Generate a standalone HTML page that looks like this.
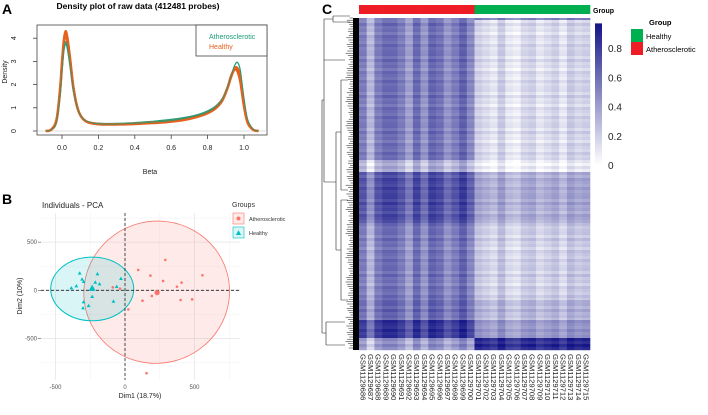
<!DOCTYPE html>
<html><head><meta charset="utf-8"><style>
html,body{margin:0;padding:0;background:#fff;}
svg{display:block;font-family:"Liberation Sans",Arial,sans-serif;}
</style></head><body>
<svg id="fig" width="708" height="415" viewBox="0 0 708 415" xmlns="http://www.w3.org/2000/svg">
<g id="pA"></g>
<g id="pB"></g>
<g id="pC"></g>
</svg>
<script>
// ---------- Panel A data ----------
const betaGrid = [-0.09,-0.06,-0.03,-0.01,0.0,0.01,0.02,0.03,0.045,0.06,0.08,0.1,0.13,0.17,0.22,0.3,0.4,0.5,0.6,0.7,0.78,0.84,0.88,0.91,0.93,0.95,0.965,0.98,1.0,1.02,1.05,1.08];
const athero1 = [0,0.05,0.4,1.6,2.6,3.5,3.85,3.6,2.8,1.9,1.1,0.7,0.45,0.34,0.3,0.3,0.33,0.38,0.45,0.58,0.75,1.0,1.35,1.9,2.4,2.85,2.95,2.6,1.4,0.5,0.08,0];
const athero2 = [0,0.04,0.35,1.5,2.5,3.4,3.75,3.5,2.7,1.8,1.05,0.68,0.44,0.36,0.33,0.33,0.36,0.42,0.5,0.62,0.8,1.05,1.4,1.95,2.45,2.75,2.7,2.3,1.2,0.4,0.06,0];
const healthy1 = [0,0.06,0.5,1.9,3.0,3.9,4.3,4.0,3.1,2.05,1.15,0.7,0.42,0.32,0.28,0.28,0.3,0.34,0.4,0.52,0.7,0.95,1.3,1.85,2.35,2.7,2.7,2.3,1.15,0.4,0.06,0];
const healthy2 = [0,0.05,0.45,1.8,2.85,3.75,4.1,3.85,3.0,2.0,1.12,0.69,0.43,0.33,0.29,0.29,0.31,0.36,0.42,0.55,0.72,0.98,1.33,1.88,2.4,2.65,2.55,2.1,1.05,0.35,0.05,0];
const densXTicks = [0.0,0.2,0.4,0.6,0.8,1.0];
const densYTicks = [0,1,2,3,4];

// ---------- Panel B data ----------
const healthyDim1 = [-326,-309,-298,-350,-386,-236,-245,-198,-183,-214,-29,-60,-83,-236,-298,-262,-302];
const healthyDim2 = [177,115,90,45,24,31,10,170,66,83,121,38,-115,-66,-121,-160,-184];
const atheroDim1 = [95,183,290,274,374,407,557,483,400,193,126,24,-88,-36,155];
const atheroDim2 = [212,153,316,97,38,80,156,-94,-101,-59,-108,-198,31,17,-861];
const centroidsDim1 = [231,-236];
const centroidsDim2 = [-24,21];
const pcaXTicks = [-500,0,500];
const pcaYTicks = [-500,0,500];

// ---------- Panel C data ----------
const sampleIds = [];
for (let i = 686; i <= 715; i++) sampleIds.push('GSM1129' + i);
const bandEnds = [20,160,172,223,300,320,338,350];
const bandAth = [0.5,0.55,0.3,0.72,0.55,0.6,0.82,0.42];
const bandHea = [0.5,0.15,0.05,0.35,0.2,0.3,0.42,0.88];
const colOffAth = [0,-0.25,0,0.08,0.08,0,-0.15,0.08,-0.1,0.1,0.05,-0.1,0,0.12,-0.05];
const colOffHea = [0.05,0,-0.05,0.08,-0.05,-0.08,0.02,0.05,-0.05,0,0.05,-0.05,0.08,0.02,0.05];
const rowJitter = [0.03,-0.04,0.06,-0.02,0.01,-0.06,0.04,0.0,-0.03,0.05,-0.01,0.02];
const cbTicks = [0,0.2,0.4,0.6,0.8];

const NS = 'http://www.w3.org/2000/svg';
function mk(parent, tag, attrs, text) {
  const e = document.createElementNS(NS, tag);
  for (const k in attrs) e.setAttribute(k, attrs[k]);
  if (text !== undefined) e.textContent = text;
  parent.appendChild(e);
  return e;
}
function smoothPath(pts) {
  let d = 'M' + pts[0][0].toFixed(1) + ',' + pts[0][1].toFixed(1);
  for (let i = 0; i < pts.length - 1; i++) {
    const p0 = pts[i-1] || pts[i], p1 = pts[i], p2 = pts[i+1], p3 = pts[i+2] || p2;
    const c1 = [p1[0] + (p2[0]-p0[0])/6, p1[1] + (p2[1]-p0[1])/6];
    const c2 = [p2[0] - (p3[0]-p1[0])/6, p2[1] - (p3[1]-p1[1])/6];
    d += ' C' + c1[0].toFixed(1)+','+c1[1].toFixed(1)+' '+c2[0].toFixed(1)+','+c2[1].toFixed(1)+' '+p2[0].toFixed(1)+','+p2[1].toFixed(1);
  }
  return d;
}

// ===== Panel A =====
(function(){
  const g = document.getElementById('pA');
  const xA = v => 62 + v * 182;
  const yA = v => 131 - v * 23.2;
  let t = mk(g,'text',{x:2,y:14,'font-size':14,'font-weight':'bold'},'A');
   
  t = mk(g,'text',{x:138,y:9,'font-size':8.5,'font-weight':'bold','text-anchor':'middle'},'Density plot of raw data (412481 probes)');
   
  let r = mk(g,'rect',{x:37,y:25,width:230,height:110,fill:'none',stroke:'#444','stroke-width':0.8});
   
  mk(g,'line',{x1:37,x2:267,y1:yA(0),y2:yA(0),stroke:'#bbb','stroke-width':0.6});
  const series = [[athero1,'#1B9E77',1.2],[athero2,'#1B9E77',1.2],[healthy1,'#E6601E',2.4],[healthy2,'#E6601E',2.4],[athero1,'#17A07A',0.7]];
  series.forEach((s,i) => {
    const pts = betaGrid.map((b,j) => [xA(b), yA(s[0][j])]);
    const p = mk(g,'path',{d:smoothPath(pts),fill:'none',stroke:s[1],'stroke-width':s[2]});
    
    
  });
  densXTicks.forEach(v => {
    mk(g,'line',{x1:xA(v),x2:xA(v),y1:135,y2:139,stroke:'#444','stroke-width':0.8});
    const tl = mk(g,'text',{x:xA(v),y:150,'font-size':7,'text-anchor':'middle',fill:'#222'},v.toFixed(1));
     
  });
  densYTicks.forEach(v => {
    mk(g,'line',{x1:33,x2:37,y1:yA(v),y2:yA(v),stroke:'#444','stroke-width':0.8});
    const tl = mk(g,'text',{x:16,y:yA(v),'font-size':7,'text-anchor':'middle',fill:'#222',transform:'rotate(-90 16 '+yA(v)+')'},String(v));
     
  });
  t = mk(g,'text',{x:150,y:174,'font-size':7,'text-anchor':'middle',fill:'#222'},'Beta');
   
  t = mk(g,'text',{x:7,y:72,'font-size':7,'text-anchor':'middle',fill:'#222',transform:'rotate(-90 7 72)'},'Density');
   
  const lg = mk(g,'g',{});
   
  mk(lg,'rect',{x:196,y:25,width:71,height:31,fill:'#fff',stroke:'#444','stroke-width':0.8});
  mk(lg,'text',{x:209,y:39,'font-size':7,fill:'#1B9E77'},'Atherosclerotic');
  mk(lg,'text',{x:209,y:49,'font-size':7,fill:'#E6601E'},'Healthy');
})();

// ===== Panel B =====
(function(){
  const g = document.getElementById('pB');
  const xB = v => 125 + v * 0.139;
  const yB = v => 290.3 - v * 0.0963;
  let t = mk(g,'text',{x:2,y:204,'font-size':14,'font-weight':'bold'},'B');
   
  t = mk(g,'text',{x:42,y:208,'font-size':8,fill:'#222'},'Individuals - PCA');
   
  const x0=41,x1=240,y0=213,y1=380;
  [-750,-250,250,750].forEach(v=>{ if(xB(v)>x0&&xB(v)<x1) mk(g,'line',{x1:xB(v),x2:xB(v),y1:y0,y2:y1,stroke:'#f2f2f2','stroke-width':0.5}); });
  [-750,-250,250,750].forEach(v=>{ if(yB(v)>y0&&yB(v)<y1) mk(g,'line',{x1:x0,x2:x1,y1:yB(v),y2:yB(v),stroke:'#f2f2f2','stroke-width':0.5}); });
  pcaXTicks.forEach(v=>{
    mk(g,'line',{x1:xB(v),x2:xB(v),y1:y0,y2:y1,stroke:'#e6e6e6','stroke-width':0.8});
    const tl = mk(g,'text',{x:xB(v),y:389,'font-size':6,'text-anchor':'middle',fill:'#555'},String(v));
     
  });
  pcaYTicks.forEach(v=>{
    mk(g,'line',{x1:x0,x2:x1,y1:yB(v),y2:yB(v),stroke:'#e6e6e6','stroke-width':0.8});
    mk(g,'line',{x1:38,x2:41,y1:yB(v),y2:yB(v),stroke:'#555','stroke-width':0.6});
    const tl = mk(g,'text',{x:37,y:yB(v)+2,'font-size':6,'text-anchor':'end',fill:'#555'},String(v));
     
  });
  let e = mk(g,'ellipse',{cx:xB(228),cy:yB(-20),rx:73,ry:71,fill:'rgba(248,118,109,0.15)',stroke:'#F8766D','stroke-width':0.8,transform:'rotate(-15 '+xB(228)+' '+yB(-20)+')'});
   
  e = mk(g,'ellipse',{cx:xB(-236),cy:yB(14),rx:41.5,ry:31.8,fill:'rgba(0,191,196,0.15)',stroke:'#00BFC4','stroke-width':1});
   
  mk(g,'line',{x1:xB(0),x2:xB(0),y1:y0,y2:y1,stroke:'#222','stroke-width':0.8,'stroke-dasharray':'3,2'});
  mk(g,'line',{x1:x0,x2:x1,y1:yB(0),y2:yB(0),stroke:'#222','stroke-width':0.8,'stroke-dasharray':'3,2'});
  atheroDim1.forEach((v,i)=>{
    const c = mk(g,'circle',{cx:xB(v),cy:yB(atheroDim2[i]),r:1.3,fill:'#F8766D'});
     
  });
  const tri=(x,y,s)=>`${x},${y-s} ${x-s*0.95},${y+s*0.7} ${x+s*0.95},${y+s*0.7}`;
  healthyDim1.forEach((v,i)=>{
    const p = mk(g,'polygon',{points:tri(xB(v),yB(healthyDim2[i]),2),fill:'#00BFC4'});
     
  });
  let c = mk(g,'circle',{cx:xB(centroidsDim1[0]),cy:yB(centroidsDim2[0]),r:2.6,fill:'#F8766D'});
   
  c = mk(g,'polygon',{points:tri(xB(centroidsDim1[1]),yB(centroidsDim2[1]),3.6),fill:'#00BFC4'});
   
  t = mk(g,'text',{x:140,y:398,'font-size':7,'text-anchor':'middle',fill:'#222'},'Dim1 (18.7%)');
   
  t = mk(g,'text',{x:22,y:296,'font-size':7,'text-anchor':'middle',fill:'#222',transform:'rotate(-90 22 296)'},'Dim2 (10%)');
   
  const lg = mk(g,'g',{});
   
  mk(lg,'text',{x:232,y:207,'font-size':7,fill:'#333'},'Groups');
  mk(lg,'rect',{x:233,y:213,width:11,height:11,fill:'rgba(248,118,109,0.15)',stroke:'#F8766D','stroke-width':0.6});
  mk(lg,'circle',{cx:238.5,cy:218.5,r:2,fill:'#F8766D'});
  mk(lg,'text',{x:249,y:221,'font-size':5.5,fill:'#333'},'Atherosclerotic');
  mk(lg,'rect',{x:233,y:227,width:11,height:11,fill:'rgba(0,191,196,0.15)',stroke:'#00BFC4','stroke-width':0.6});
  mk(lg,'polygon',{points:tri(238.5,233,2.8),fill:'#00BFC4'});
  mk(lg,'text',{x:249,y:235,'font-size':5.5,fill:'#333'},'Healthy');
})();

// ===== Panel C =====
(function(){
  const g = document.getElementById('pC');
  const hx0 = 359, hx1 = 590, hy0 = 18;
  const cw = (hx1-hx0)/sampleIds.length;
  const colorOf = v => {
    v = Math.max(0, Math.min(1, v));
    const r = Math.round(255 - v*(255-20)), gg = Math.round(255 - v*(255-20)), b = Math.round(255 - v*(255-135));
    return `rgb(${r},${gg},${b})`;
  };
  let t = mk(g,'text',{x:322,y:14,'font-size':14,'font-weight':'bold'},'C');
   
  sampleIds.forEach((id,i)=>{
    const r = mk(g,'rect',{x:hx0+i*cw,y:5,width:cw+0.3,height:9,fill:i<15?'#EE1C25':'#00B050'});
     
  });
  t = mk(g,'text',{x:593,y:13,'font-size':7,'font-weight':'bold'},'Group');
   
  const rowH = 3;
  let y = hy0, band = 0, rowIdx = 0;
  const cells = mk(g,'g',{});
   
  while (y < bandEnds[bandEnds.length-1]) {
    while (y >= bandEnds[band]) band++;
    const h = Math.min(rowH, bandEnds[band]-y);
    const jit = rowJitter[rowIdx % rowJitter.length];
    sampleIds.forEach((id,i)=>{
      const ath = i < 15;
      const base = ath ? bandAth[band] + colOffAth[i] : bandHea[band] + colOffHea[i-15];
      const r = mk(cells,'rect',{x:(hx0+i*cw).toFixed(2),y:y,width:(cw+0.3).toFixed(2),height:h+0.2,fill:colorOf(base + jit)});
       
    });
    y += h; rowIdx++;
  }
  const dg = mk(g,'g',{stroke:'#222','stroke-width':0.6,fill:'none'});
   
  const dp = 'M322,100 H324 M322,100 V333 M322,333 H324 M324,19 V182 M324,19 H333 M333,16 V22 M333,16 H350 M333,22 H350 M324,182 H336 M324,60 H345 M336,132 V250 M336,132 H341 M336,250 H341 M341,80 V190 M341,200 V300 M341,80 H348 M341,190 H348 M341,200 H348 M341,300 H348 M324,333 H326 M326,322 V345 M326,322 H345 M326,345 H345';
  mk(dg,'path',{d:dp});
  const dense = mk(g,'g',{stroke:'#111','stroke-width':0.5});
   
  mk(dense,'rect',{x:353,y:18,width:6,height:332,fill:'#000',stroke:'none'});
  for (let yy = 18; yy < 350; yy += 2.2) {
    const j = rowJitter[Math.floor(yy) % rowJitter.length];
    mk(dense,'line',{x1:(348 + j*40).toFixed(1),x2:353,y1:yy.toFixed(1),y2:yy.toFixed(1)});
  }
  sampleIds.forEach((id,i)=>{
    const cx = hx0 + (i+0.5)*cw;
    const tl = mk(g,'text',{x:0,y:0,'font-size':7.6,fill:'#222',transform:`translate(${(cx-2.6).toFixed(1)},354) rotate(90)`},id);
     
  });
  const defs = mk(g,'defs',{});
  const lgr = mk(defs,'linearGradient',{id:'cb',x1:0,y1:1,x2:0,y2:0});
  mk(lgr,'stop',{offset:'0','stop-color':colorOf(0)});
  mk(lgr,'stop',{offset:'1','stop-color':colorOf(1)});
  const cbY = v => 165 - v*146;
  let cb = mk(g,'rect',{x:595,y:cbY(0.97),width:7,height:cbY(0)-cbY(0.97),fill:'url(#cb)'});
   
  cbTicks.forEach(v=>{
    const tl = mk(g,'text',{x:608,y:cbY(v)+4,'font-size':10,fill:'#222'},v===0?'0':v.toFixed(1));
     
  });
  const lg = mk(g,'g',{});
   
  mk(lg,'text',{x:649,y:25,'font-size':7.5,'font-weight':'bold'},'Group');
  mk(lg,'rect',{x:631,y:29,width:12,height:13,fill:'#00B050'});
  mk(lg,'rect',{x:631,y:42,width:12,height:13,fill:'#EE1C25'});
  mk(lg,'text',{x:646,y:39,'font-size':7.5},'Healthy');
  mk(lg,'text',{x:646,y:52,'font-size':7.5},'Atherosclerotic');
})();
</script>
</body></html>
